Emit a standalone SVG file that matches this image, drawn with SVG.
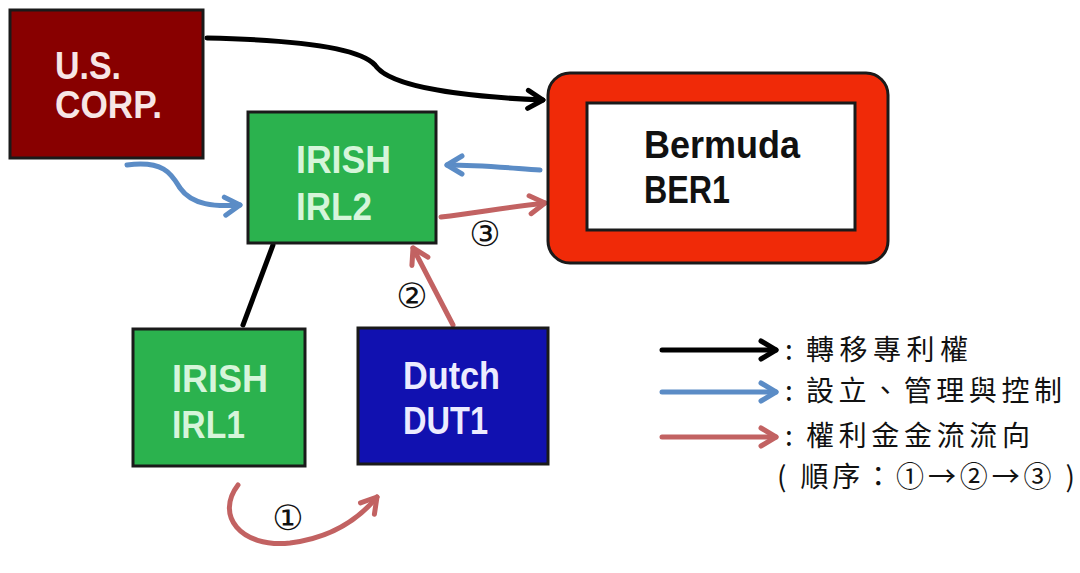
<svg xmlns="http://www.w3.org/2000/svg" width="1080" height="573" viewBox="0 0 1080 573">
<defs>
<style>
.box{stroke:#1a1a1a;stroke-width:3}
.lbl{font-family:"Liberation Sans",Arial,sans-serif;font-weight:bold;font-size:38px}
.con{fill:none;stroke-width:5;stroke-linecap:round}
.num{font-family:"DejaVu Sans","Noto Sans CJK SC",sans-serif;font-size:35px;fill:#111;text-anchor:middle}
.leg{font-family:"Noto Sans CJK TC","Noto Sans CJK SC",sans-serif;font-size:28px;fill:#111}
</style>
<marker id="ak" viewBox="0 0 24 24" refX="20" refY="12" markerWidth="24" markerHeight="24" markerUnits="userSpaceOnUse" orient="auto">
<path d="M5,3 L20,12 L5,21" fill="none" stroke="#000" stroke-width="5" stroke-linecap="round" stroke-linejoin="round"/>
</marker>
<marker id="ab" viewBox="0 0 24 24" refX="20" refY="12" markerWidth="24" markerHeight="24" markerUnits="userSpaceOnUse" orient="auto">
<path d="M5,3 L20,12 L5,21" fill="none" stroke="#5b8cc6" stroke-width="5" stroke-linecap="round" stroke-linejoin="round"/>
</marker>
<marker id="ar" viewBox="0 0 24 24" refX="20" refY="12" markerWidth="24" markerHeight="24" markerUnits="userSpaceOnUse" orient="auto">
<path d="M5,3 L20,12 L5,21" fill="none" stroke="#c26262" stroke-width="5" stroke-linecap="round" stroke-linejoin="round"/>
</marker>
</defs>
<rect width="1080" height="573" fill="#ffffff"/>

<g id="connectors">
<path class="con" stroke="#000" d="M207,38 C300,40 360,48 375,65 C390,88 470,97 543,100" marker-end="url(#ak)"/>
<path class="con" stroke="#5b8cc6" d="M127,165 C165,160 172,175 180,188 C192,205 215,207 240,205" marker-end="url(#ab)"/>
<path class="con" stroke="#5b8cc6" d="M540,170 C510,168 480,165 447,165" marker-end="url(#ab)"/>
<path class="con" stroke="#c26262" d="M441,217 C480,212 510,207 545,203" marker-end="url(#ar)"/>
<path class="con" stroke="#000" d="M273,245 L243,325"/>
<path class="con" stroke="#c26262" d="M453,325 L413,248" marker-end="url(#ar)"/>
<path class="con" stroke="#c26262" d="M238,485 C215,515 240,548 290,543 C330,538 358,520 377,497" marker-end="url(#ar)"/>
<text class="num" x="485" y="246">③</text>
<text class="num" x="412" y="308">②</text>
<text class="num" x="288" y="530">①</text>
</g>

<g id="us-corp">
<rect class="box" x="10" y="10" width="193" height="148" fill="#880000"/>
<text class="lbl" fill="#f7e6e6" x="55" y="79" textLength="66" lengthAdjust="spacingAndGlyphs">U.S.</text>
<text class="lbl" fill="#f7e6e6" x="55" y="118" textLength="107" lengthAdjust="spacingAndGlyphs">CORP.</text>
</g>

<g id="irl2">
<rect class="box" x="248" y="112" width="188" height="131" fill="#2bb24e"/>
<text class="lbl" fill="#d6f5da" x="296" y="173" textLength="95" lengthAdjust="spacingAndGlyphs">IRISH</text>
<text class="lbl" fill="#d6f5da" x="296" y="220" textLength="76" lengthAdjust="spacingAndGlyphs">IRL2</text>
</g>

<g id="ber1">
<rect x="548" y="73" width="340" height="190" rx="22" fill="#f02a08" stroke="#1a1a1a" stroke-width="3"/>
<rect class="box" x="587" y="103" width="268" height="127" fill="#ffffff"/>
<text class="lbl" fill="#111" x="644" y="158" textLength="156" lengthAdjust="spacingAndGlyphs">Bermuda</text>
<text class="lbl" fill="#111" x="644" y="203" textLength="86" lengthAdjust="spacingAndGlyphs">BER1</text>
</g>

<g id="irl1">
<rect class="box" x="133" y="329" width="172" height="137" fill="#2bb24e"/>
<text class="lbl" fill="#d6f5da" x="172" y="392" textLength="96" lengthAdjust="spacingAndGlyphs">IRISH</text>
<text class="lbl" fill="#d6f5da" x="172" y="438" textLength="73" lengthAdjust="spacingAndGlyphs">IRL1</text>
</g>

<g id="dut1">
<rect class="box" x="358" y="328" width="190" height="136" fill="#1111b0"/>
<text class="lbl" fill="#ececff" x="403" y="389" textLength="97" lengthAdjust="spacingAndGlyphs">Dutch</text>
<text class="lbl" fill="#ececff" x="403" y="434" textLength="85" lengthAdjust="spacingAndGlyphs">DUT1</text>
</g>

<g id="legend">
<path class="con" stroke="#000" stroke-width="6" d="M662,350 L776,350" marker-end="url(#ak)"/>
<path class="con" stroke="#5b8cc6" stroke-width="6" d="M662,392 L776,392" marker-end="url(#ab)"/>
<path class="con" stroke="#c26262" stroke-width="6" d="M662,437 L776,437" marker-end="url(#ar)"/>
<text class="leg" x="785" y="360">:</text>
<text class="leg" x="806" y="360" textLength="162" lengthAdjust="spacing">轉移專利權</text>
<text class="leg" x="785" y="401">:</text>
<text class="leg" x="806" y="401" textLength="256" lengthAdjust="spacing">設立、管理與控制</text>
<text class="leg" x="785" y="446">:</text>
<text class="leg" x="806" y="446" textLength="224" lengthAdjust="spacing">權利金金流流向</text>
<text class="leg" x="777" y="487" textLength="298" lengthAdjust="spacing" xml:space="preserve">( 順序：①→②→③ )</text>
</g>
</svg>
